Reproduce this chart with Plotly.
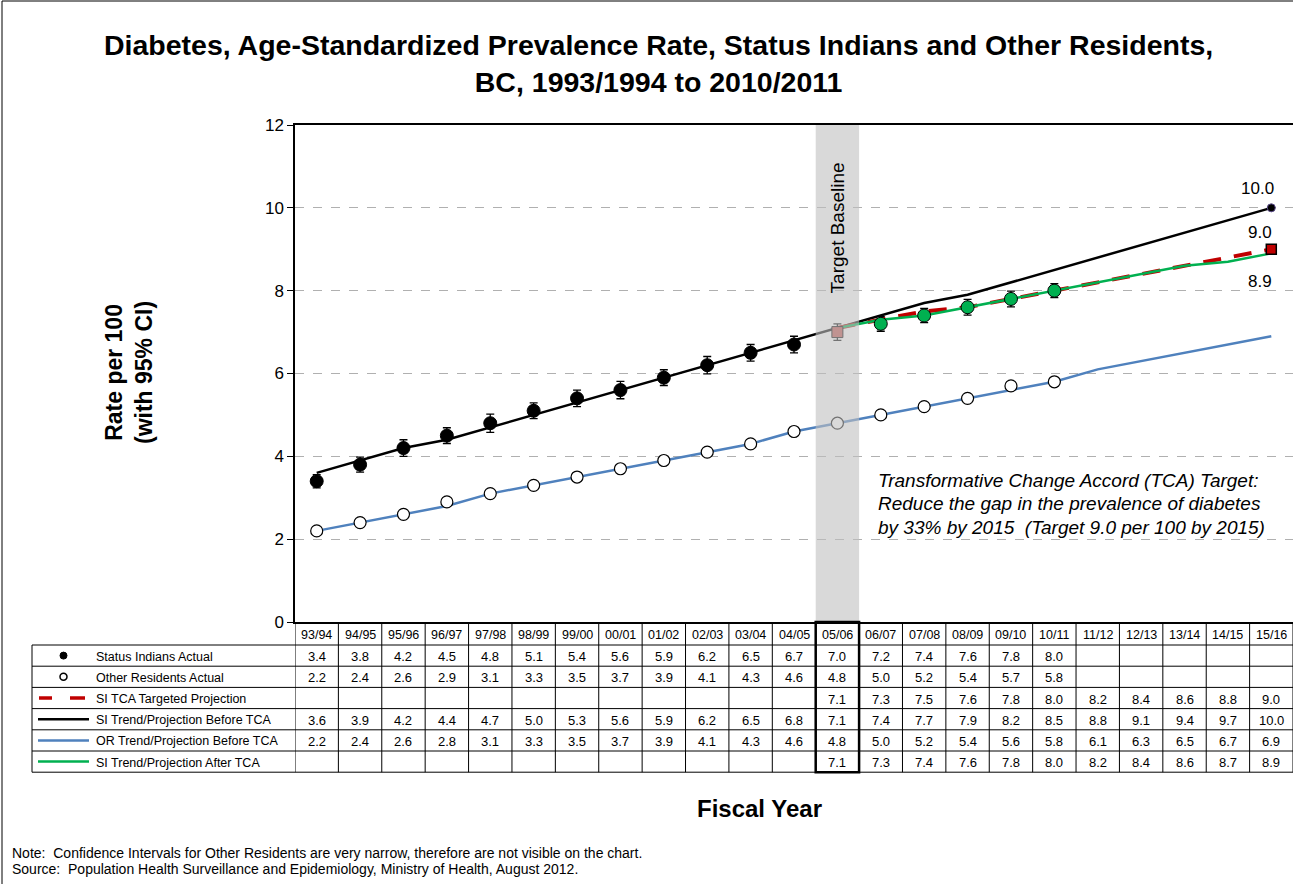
import plotly.graph_objects as go

# ---- data ----
years = ["93/94", "94/95", "95/96", "96/97", "97/98", "98/99", "99/00", "00/01",
         "01/02", "02/03", "03/04", "04/05", "05/06", "06/07", "07/08", "08/09",
         "09/10", "10/11", "11/12", "12/13", "13/14", "14/15", "15/16"]
si_actual = [3.4, 3.8, 4.2, 4.5, 4.8, 5.1, 5.4, 5.6, 5.9, 6.2, 6.5, 6.7,
             7.0, 7.2, 7.4, 7.6, 7.8, 8.0]
si_ci = [0.16, 0.18, 0.20, 0.19, 0.22, 0.19, 0.20, 0.21, 0.19, 0.21, 0.20, 0.20,
         0.20, 0.18, 0.17, 0.19, 0.19, 0.17]
or_actual = [2.2, 2.4, 2.6, 2.9, 3.1, 3.3, 3.5, 3.7, 3.9, 4.1, 4.3, 4.6,
             4.8, 5.0, 5.2, 5.4, 5.7, 5.8]
si_tca_target = [7.1, 7.3, 7.5, 7.6, 7.8, 8.0, 8.2, 8.4, 8.6, 8.8, 9.0]
si_trend_before = [3.6, 3.9, 4.2, 4.4, 4.7, 5.0, 5.3, 5.6, 5.9, 6.2, 6.5, 6.8,
                   7.1, 7.4, 7.7, 7.9, 8.2, 8.5, 8.8, 9.1, 9.4, 9.7, 10.0]
or_trend_before = [2.2, 2.4, 2.6, 2.8, 3.1, 3.3, 3.5, 3.7, 3.9, 4.1, 4.3, 4.6,
                   4.8, 5.0, 5.2, 5.4, 5.6, 5.8, 6.1, 6.3, 6.5, 6.7, 6.9]
si_trend_after = [7.1, 7.3, 7.4, 7.6, 7.8, 8.0, 8.2, 8.4, 8.6, 8.7, 8.9]
row_labels = ["Status Indians Actual", "Other Residents Actual",
              "SI TCA Targeted Projection", "SI Trend/Projection Before TCA",
              "OR Trend/Projection Before TCA", "SI Trend/Projection After TCA"]
baseline_year = "05/06"

# ---- colours ----
BLACK = "#000000"
BLUE = "#4f81bd"
RED = "#c00000"
GREEN = "#00b050"
SQUARE_RED = "#c0504d"
FONT = "Liberation Sans, Arial, sans-serif"

# ---- layout geometry (pixels) ----
W, H = 1293, 884
L, R, T, B = 295, 0, 125, 262
PW, PH = W - L - R, H - T - B


def px_x(px):
    return (px - L) / PW


def px_y(py):
    return (H - B - py) / PH


n = len(years)
xi = list(range(n))
b = years.index(baseline_year)
x_proj = xi[b:]
x_actual = xi[:len(si_actual)]

fig = go.Figure()

# trend lines
fig.add_trace(go.Scatter(x=xi, y=or_trend_before, mode="lines",
                         line=dict(color=BLUE, width=2.5), showlegend=False))
fig.add_trace(go.Scatter(x=xi, y=si_trend_before, mode="lines",
                         line=dict(color=BLACK, width=2.5), showlegend=False))
fig.add_trace(go.Scatter(x=x_proj, y=si_tca_target, mode="lines",
                         line=dict(color=RED, width=4, dash="18px,13px"),
                         showlegend=False))
fig.add_trace(go.Scatter(x=x_proj, y=si_trend_after, mode="lines",
                         line=dict(color=GREEN, width=2.5), showlegend=False))

# end points of projections
fig.add_trace(go.Scatter(x=[xi[-1]], y=[si_trend_before[-1]], mode="markers",
                         marker=dict(color=BLACK, size=8, opacity=1,
                                     line=dict(color="#5a4a8a", width=1)),
                         showlegend=False))
fig.add_trace(go.Scatter(x=[xi[-1]], y=[si_tca_target[-1]], mode="markers",
                         marker=dict(color=RED, size=10, symbol="square", opacity=1,
                                     line=dict(color=BLACK, width=1.5)),
                         showlegend=False))

# other residents actual
fig.add_trace(go.Scatter(x=x_actual, y=or_actual, mode="markers",
                         marker=dict(color="white", size=12, opacity=1,
                                     line=dict(color=BLACK, width=1.2)),
                         showlegend=False))

# status indians actual, with 95% CI
colors, symbols, sizes = [], [], []
for i in x_actual:
    if i < b:
        colors.append(BLACK); symbols.append("circle"); sizes.append(13)
    elif i == b:
        colors.append(SQUARE_RED); symbols.append("square"); sizes.append(11)
    else:
        colors.append(GREEN); symbols.append("circle"); sizes.append(13)
fig.add_trace(go.Scatter(x=x_actual, y=si_actual, mode="markers",
                         marker=dict(color=colors, symbol=symbols, size=sizes, opacity=1,
                                     line=dict(color=BLACK, width=1)),
                         error_y=dict(type="data", array=si_ci, color=BLACK,
                                      thickness=1.3, width=4),
                         showlegend=False))

shapes = []
annotations = []


def note(**kw):
    kw.setdefault("showarrow", False)
    kw.setdefault("xanchor", "center")
    kw.setdefault("yanchor", "middle")
    annotations.append(kw)


# target baseline band
shapes.append(dict(type="rect", xref="x", yref="paper", x0=b - 0.5, x1=b + 0.5,
                   y0=0, y1=1, fillcolor="rgba(192,192,192,0.6)",
                   line=dict(width=0), layer="above"))
note(x=b, xref="x", y=px_y(228), yref="paper", text="Target Baseline", textangle=-90,
     font=dict(family=FONT, size=19, color=BLACK))

# end-point labels
END_FONT = dict(family=FONT, size=17, color=BLACK)
note(x=xi[-1], y=si_trend_before[-1], text=f"{si_trend_before[-1]:.1f}",
     xshift=-14, yshift=19, font=END_FONT)
note(x=xi[-1], y=si_tca_target[-1], text=f"{si_tca_target[-1]:.1f}",
     xshift=-11, yshift=17, font=END_FONT)
note(x=xi[-1], y=si_trend_after[-1], text=f"{si_trend_after[-1]:.1f}",
     xshift=-11, yshift=-28, font=END_FONT)

# TCA target note
for k, line in enumerate(["Transformative Change Accord (TCA) Target:",
                          "Reduce the gap in the prevalence of diabetes",
                          "by 33% by 2015  (Target 9.0 per 100 by 2015)"]):
    note(x=px_x(876), y=px_y(480 + 23.5 * k), xref="paper", yref="paper",
         xanchor="left", text=f"<i>{line}</i>",
         font=dict(family=FONT, size=19, color=BLACK))

# ---- data table under the axis ----
HEADER_TOP, HEADER_BOT = 622, 645
ROW_H = 21.2
LEG_LEFT = 32
row_tops = [HEADER_BOT + ROW_H * r for r in range(len(row_labels) + 1)]
TABLE_BOT = row_tops[-1]
GRID = dict(color=BLACK, width=1)

for i in range(n + 1):
    shapes.append(dict(type="line", xref="x", yref="paper", x0=i - 0.5, x1=i - 0.5,
                       y0=px_y(HEADER_TOP), y1=px_y(TABLE_BOT), line=GRID))
for yy in row_tops:
    shapes.append(dict(type="line", xref="paper", yref="paper", x0=px_x(LEG_LEFT), x1=1,
                       y0=px_y(yy), y1=px_y(yy), line=GRID))
shapes.append(dict(type="line", xref="paper", yref="paper", x0=px_x(LEG_LEFT), x1=px_x(LEG_LEFT),
                   y0=px_y(HEADER_BOT), y1=px_y(TABLE_BOT), line=GRID))
# emphasised baseline column
shapes.append(dict(type="rect", xref="x", yref="paper", x0=b - 0.5, x1=b + 0.5,
                   y0=px_y(TABLE_BOT), y1=px_y(HEADER_TOP), line=dict(color=BLACK, width=2.5)))

HEAD_FONT = dict(family=FONT, size=12.5, color=BLACK)
CELL_FONT = dict(family=FONT, size=13, color=BLACK)
for i, yr in enumerate(years):
    note(x=i, xref="x", y=px_y((HEADER_TOP + HEADER_BOT) / 2 + 1), yref="paper",
         text=yr, font=HEAD_FONT)

table_values = [
    si_actual + [None] * (n - len(si_actual)),
    or_actual + [None] * (n - len(or_actual)),
    [None] * b + si_tca_target,
    si_trend_before,
    or_trend_before,
    [None] * b + si_trend_after,
]
for r, (label, vals) in enumerate(zip(row_labels, table_values)):
    yc = px_y(row_tops[r] + ROW_H / 2 + 1)
    note(x=px_x(94), xref="paper", y=yc, yref="paper", xanchor="left",
         text=label, font=dict(family=FONT, size=12.5, color=BLACK))
    for i, v in enumerate(vals):
        if v is not None:
            note(x=i, xref="x", y=yc, yref="paper", text=f"{v:.1f}", font=CELL_FONT)


# legend keys in the table's first column
def row_center(r):
    return row_tops[r] + ROW_H / 2


c0 = row_center(0)
shapes.append(dict(type="circle", xref="paper", yref="paper",
                   x0=px_x(60), x1=px_x(67), y0=px_y(c0 + 3.5), y1=px_y(c0 - 3.5),
                   fillcolor=BLACK, line=dict(color=BLACK, width=1)))
c1 = row_center(1)
shapes.append(dict(type="circle", xref="paper", yref="paper",
                   x0=px_x(60), x1=px_x(67), y0=px_y(c1 + 3.5), y1=px_y(c1 - 3.5),
                   fillcolor="white", line=dict(color=BLACK, width=1.5)))
c2 = row_center(2)
for xa, xb in [(39, 52), (70, 85)]:
    shapes.append(dict(type="line", xref="paper", yref="paper", x0=px_x(xa), x1=px_x(xb),
                       y0=px_y(c2), y1=px_y(c2), line=dict(color=RED, width=3.5)))
for r, col in [(3, BLACK), (4, BLUE), (5, GREEN)]:
    c = row_center(r)
    shapes.append(dict(type="line", xref="paper", yref="paper", x0=px_x(38), x1=px_x(89),
                       y0=px_y(c), y1=px_y(c), line=dict(color=col, width=2.5)))

# outer frame
shapes.append(dict(type="rect", xref="paper", yref="paper", x0=px_x(2), x1=px_x(W + 10),
                   y0=px_y(H + 10), y1=px_y(1), line=dict(color=BLACK, width=1)))

# titles and notes
note(x=px_x(658), y=px_y(63), xref="paper", yref="paper",
     text="<b>Diabetes, Age-Standardized Prevalence Rate, Status Indians and Other Residents,"
          "<br>BC, 1993/1994 to 2010/2011</b>",
     font=dict(family=FONT, size=28.5, color=BLACK))
note(x=px_x(129), y=px_y(373), xref="paper", yref="paper", textangle=-90,
     text="<b>Rate per 100<br>(with 95% CI)</b>",
     font=dict(family=FONT, size=23, color=BLACK))
note(x=px_x(759), y=px_y(808), xref="paper", yref="paper",
     text="<b>Fiscal Year</b>", font=dict(family=FONT, size=24, color=BLACK))
NOTE_FONT = dict(family=FONT, size=14, color=BLACK)
note(x=px_x(10), y=px_y(853), xref="paper", yref="paper", xanchor="left",
     text="Note:  Confidence Intervals for Other Residents are very narrow, therefore are not visible on the chart.",
     font=NOTE_FONT)
note(x=px_x(10), y=px_y(869), xref="paper", yref="paper", xanchor="left",
     text="Source:  Population Health Surveillance and Epidemiology, Ministry of Health, August 2012.",
     font=NOTE_FONT)

fig.update_layout(
    width=W, height=H,
    margin=dict(l=L, r=R, t=T, b=B, pad=0),
    paper_bgcolor="white", plot_bgcolor="white",
    font=dict(family=FONT, color=BLACK),
    shapes=shapes, annotations=annotations,
    xaxis=dict(range=[-0.5, n - 0.5], showticklabels=False, ticks="", showgrid=False,
               zeroline=False, showline=True, linecolor=BLACK, linewidth=1.5, mirror=True),
    yaxis=dict(range=[0, 12], dtick=2, showline=True, linecolor=BLACK, linewidth=1.5,
               ticks="outside", ticklen=6, tickcolor=BLACK, zeroline=False,
               showgrid=True, gridcolor="#b0b0b0", griddash="dash", gridwidth=1,
               tickfont=dict(family=FONT, size=17, color=BLACK)),
)

fig.write_html("out.html")
